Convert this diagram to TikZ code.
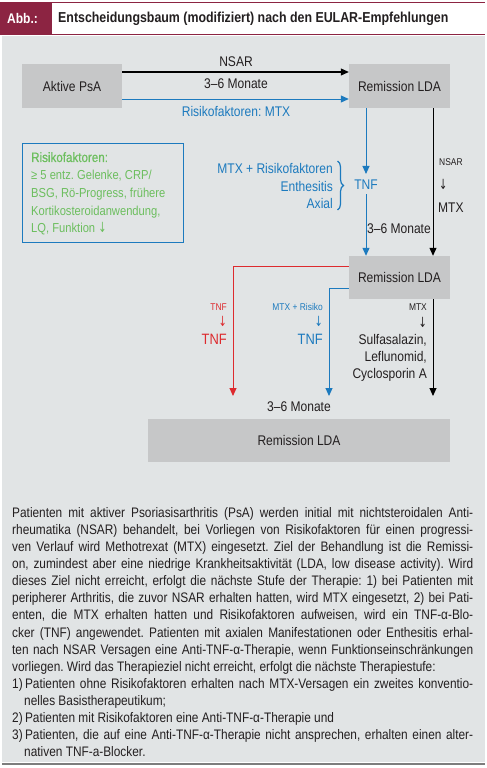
\documentclass[tikz,border=0pt]{standalone}
\usepackage{fontspec}
\setmainfont{Liberation Sans}[FakeStretch=0.86]
\newfontfamily\medfont{Liberation Sans}[FakeStretch=0.86,FakeBold=0.6]
\newfontfamily\arrfont{DejaVu Sans}[FakeStretch=0.7]
\usetikzlibrary{arrows.meta,decorations.pathreplacing}
\definecolor{bgc}{RGB}{225,228,229}
\definecolor{boxc}{RGB}{198,199,200}
\definecolor{maroonc}{RGB}{140,36,66}
\definecolor{pblue}{RGB}{28,122,190}
\definecolor{pred}{RGB}{221,42,46}
\definecolor{pgreen}{RGB}{108,190,94}
\definecolor{ink}{RGB}{35,31,32}
\definecolor{edgec}{RGB}{125,125,125}
\newcommand{\mynf}{\fontsize{14}{16}\selectfont}
\newcommand{\mysf}{\fontsize{9.8}{11}\selectfont}
\newcommand{\dn}{{\arrfont\fontsize{14}{15}\selectfont ↓}}
\frenchspacing
\begin{document}
\begin{tikzpicture}[x=1pt,y=-1pt,
  every node/.style={text=ink,font=\mynf,inner sep=0pt},
  box/.style={fill=boxc,minimum width=101pt,minimum height=44pt},
  karr/.style={draw=black,line width=1pt,-{Triangle[length=8pt,width=7pt]}},
  barr/.style={draw=pblue,line width=1pt,-{Triangle[length=8pt,width=7pt]}},
  rarr/.style={draw=pred,line width=1pt,-{Triangle[length=8pt,width=7pt]}},
  small/.style={font=\mysf}]
\useasboundingbox (0,0) rectangle (487,768);
\fill[white] (0,0) rectangle (487,768);
% background and header
\fill[bgc] (2,36) rectangle (485,762);
\draw[edgec,line width=1.5pt] (2,764) -- (485,764);
\draw[maroonc,line width=1pt] (0,2.5) -- (485,2.5);
\draw[maroonc,line width=1pt] (0,35) -- (485,35);
\fill[maroonc] (0,2) rectangle (52,35.5);
\node[anchor=west,text=white,font=\fontsize{14}{16}\selectfont\bfseries] (abb) at (7,18.5) {Abb.:};
\node[anchor=west,font=\fontsize{14.4}{16}\selectfont\bfseries] (title) at (58,18.5) {Entscheidungsbaum (modifiziert) nach den EULAR-Empfehlungen};
% main boxes
\node[box,minimum width=100pt] (a) at (72,86) {Aktive PsA};
\node[box] (r1) at (399.5,86) {Remission LDA};
\node[box,minimum height=43pt] (r2) at (399.5,277.5) {Remission LDA};
\node[box,minimum width=302pt,minimum height=43pt] (r3) at (299,440.5) {Remission LDA};
% top arrows
\draw[karr] ([yshift=14pt]a.east) -- ([yshift=14pt]r1.west);
\draw[barr] ([yshift=-13pt]a.east) -- ([yshift=-13pt]r1.west);
\node (nsar) at (236,62) {NSAR};
\node (m1) at (236,84) {3--6 Monate};
\node[text=pblue] (rfm) at (236,111) {Risikofaktoren: MTX};
% risk factor box
\node[draw=pblue,line width=0.8pt,minimum width=161pt,minimum height=99pt,anchor=north west] (rf) at (22,143) {};
\node[anchor=north west,align=left,text=pgreen,font=\fontsize{13}{17.75}\selectfont] (rft) at (31,152) {{\medfont\fontsize{13.5}{17.75}\selectfont Risikofaktoren:}\\ ≥ 5 entz. Gelenke, CRP/\\ BSG, Rö-Progress, frühere\\ Kortikosteroidanwendung,\\ LQ, Funktion \dn};
% TNF branch
\node[text=pblue] (tnf) at (366,185) {TNF};
\node[anchor=east,text=pblue] (t1) at (333,168) {MTX + Risikofaktoren};
\node[anchor=east,text=pblue] (t2) at (333,186) {Enthesitis};
\node[anchor=east,text=pblue] (t3) at (333,203) {Axial};
\draw[pblue,line width=1.2pt,decorate,decoration={brace,amplitude=6pt}] (337.5,161) -- (337.5,210);
\draw[barr] (r1.south -| tnf) -- ([yshift=6pt]tnf.north);
\draw[barr] ([yshift=-4pt]tnf.south) -- (r2.north -| tnf);
\node[anchor=west] (m2) at (367,229) {3--6 Monate};
% NSAR -> MTX branch
\coordinate (kx) at (433,0);
\draw[karr] (r1.south -| kx) -- (r2.north -| kx);
\node[anchor=west,small] (ns2) at (439,162) {NSAR};
\node[anchor=west] (ar1) at (439,184) {\dn};
\node[anchor=west] (mtx) at (438,208) {MTX};
% second stage
\coordinate (redend) at (233,396);
\coordinate (blueend) at (329,396);
\coordinate (blackend) at (433,396);
\draw[rarr] ([yshift=11.5pt]r2.west) -| (redend);
\draw[barr] ([yshift=-10.5pt]r2.west) -| (blueend);
\draw[karr] (r2.south -| blackend) -- (blackend);
\node[anchor=east,small,text=pred] (rs1) at (227,307) {TNF};
\node[anchor=east,text=pred] (rs2) at (227,321) {\dn};
\node[anchor=east,text=pred,font=\fontsize{15}{16}\selectfont] (rs3) at (227,339) {TNF};
\node[anchor=east,small,text=pblue] (bs1) at (323,307) {MTX + Risiko};
\node[anchor=east,text=pblue] (bs2) at (323,321) {\dn};
\node[anchor=east,text=pblue,font=\fontsize{15}{16}\selectfont] (bs3) at (323,339) {TNF};
\node[anchor=east,small] (ks1) at (427,307) {MTX};
\node[anchor=east] (ks2) at (427,322) {\dn};
\node[anchor=east] (ks3) at (427,340) {Sulfasalazin,};
\node[anchor=east] (ks4) at (427,357.5) {Leflunomid,};
\node[anchor=east] (ks5) at (427,375) {Cyclosporin A};
\node (m3) at (299,407) {3--6 Monate};
% caption text
\node[anchor=base west,font=\fontsize{13.8}{17.08}\selectfont] (cap) at (12,517.5) {\parbox[t]{461pt}{\fontsize{13.8}{17.08}\selectfont
\makebox[461pt][s]{Patienten mit aktiver Psoriasisarthritis (PsA) werden initial mit nichtsteroidalen Anti-}\\
\makebox[461pt][s]{rheumatika (NSAR) behandelt, bei Vorliegen von Risikofaktoren für einen progressi-}\\
\makebox[461pt][s]{ven Verlauf wird Methotrexat (MTX) eingesetzt. Ziel der Behandlung ist die Remissi-}\\
\makebox[461pt][s]{on, zumindest aber eine niedrige Krankheitsaktivität (LDA, low disease activity). Wird}\\
\makebox[461pt][s]{dieses Ziel nicht erreicht, erfolgt die nächste Stufe der Therapie: 1) bei Patienten mit}\\
\makebox[461pt][s]{peripherer Arthritis, die zuvor NSAR erhalten hatten, wird MTX eingesetzt, 2) bei Pati-}\\
\makebox[461pt][s]{enten, die MTX erhalten hatten und Risikofaktoren aufweisen, wird ein TNF-α-Blo-}\\
\makebox[461pt][s]{cker (TNF) angewendet. Patienten mit axialen Manifestationen oder Enthesitis erhal-}\\
\makebox[461pt][s]{ten nach NSAR Versagen eine Anti-TNF-α-Therapie, wenn Funktionseinschränkungen}\\
vorliegen. Wird das Therapieziel nicht erreicht, erfolgt die nächste Therapiestufe:\\
\makebox[461pt][s]{1)\,Patienten ohne Risikofaktoren erhalten nach MTX-Versagen ein zweites konventio-}\\
\hspace*{12pt}nelles Basistherapeutikum;\\
2)\,Patienten mit Risikofaktoren eine Anti-TNF-α-Therapie und\\
\makebox[461pt][s]{3)\,Patienten, die auf eine Anti-TNF-α-Therapie nicht ansprechen, erhalten einen alter-}\\
\hspace*{12pt}nativen TNF-a-Blocker.}};
\end{tikzpicture}
\end{document}
